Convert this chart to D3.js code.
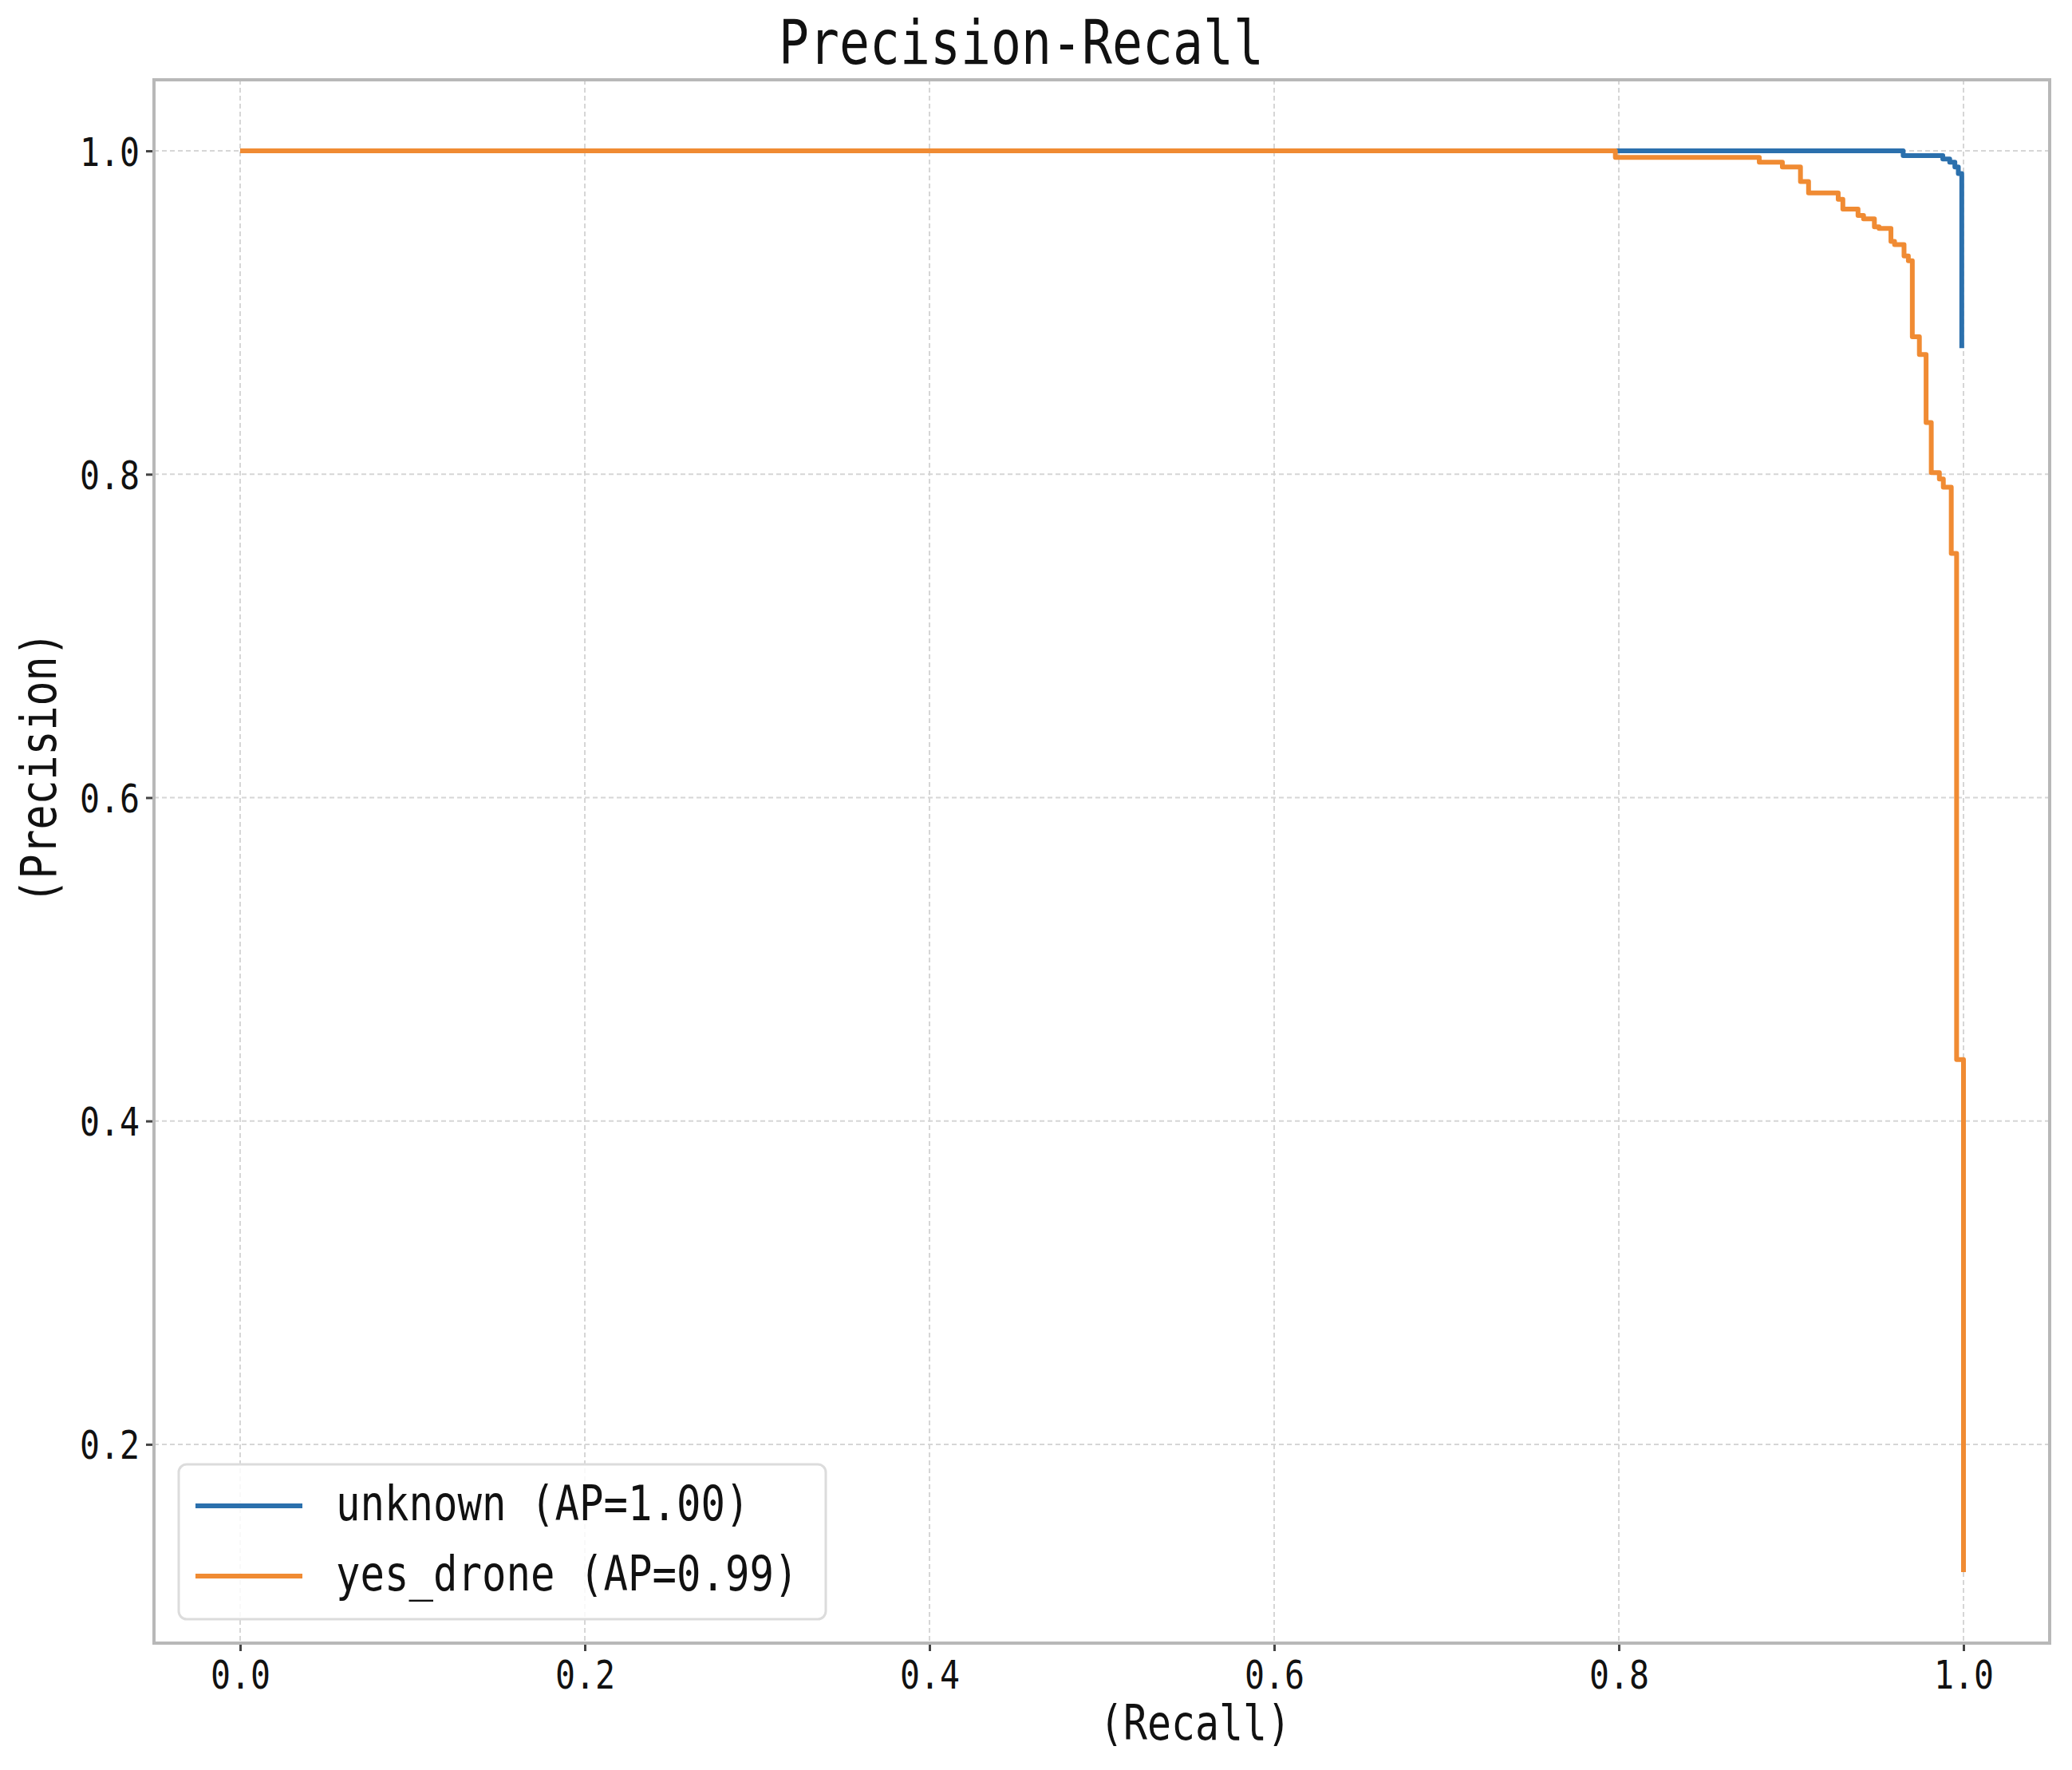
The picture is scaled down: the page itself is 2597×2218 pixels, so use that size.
<!DOCTYPE html>
<html>
<head>
<meta charset="utf-8">
<script src="https://cdn.jsdelivr.net/npm/d3@7"></script>
<style>
  html, body { margin: 0; padding: 0; background: #fff; }
  svg text { font-family: "DejaVu Sans Mono", monospace; fill: #111; }
</style>
</head>
<body>
<svg id="chart"></svg>
<script>
const width = 2597;
const height = 2218;

// tick values
const xTicks = [0, 0.2, 0.4, 0.6, 0.8, 1.0];
const yTicks = [0.2, 0.4, 0.6, 0.8, 1.0];

// series (step-after points: recall, precision)
const seriesNames = ['unknown (AP=1.00)', 'yes_drone (AP=0.99)'];
const unknownRecall    = [0, 0.965, 0.988, 0.992, 0.995, 0.997, 0.999];
const unknownPrecision = [1.0, 0.997, 0.995, 0.993, 0.990, 0.986, 0.878];
const droneRecall    = [0, 0.798, 0.8815, 0.8949, 0.9054, 0.9101, 0.9273, 0.930, 0.9388, 0.942, 0.9483, 0.951, 0.9579, 0.960, 0.9655, 0.968, 0.9703, 0.9744, 0.9783, 0.9813, 0.986, 0.9883, 0.9929, 0.996, 1.0];
const dronePrecision = [1.0, 0.996, 0.993, 0.990, 0.981, 0.974, 0.970, 0.964, 0.960, 0.958, 0.953, 0.952, 0.944, 0.942, 0.935, 0.932, 0.885, 0.874, 0.832, 0.801, 0.797, 0.792, 0.751, 0.438, 0.121];

const colors = ['#2b70ad', '#f08b33'];

const series = [
    { name: seriesNames[0], color: colors[0], pts: unknownRecall.map((r, i) => [r, unknownPrecision[i]]) },
    { name: seriesNames[1], color: colors[1], pts: droneRecall.map((r, i) => [r, dronePrecision[i]]) }
];

const plot = { left: 193, right: 2569, top: 100, bottom: 2059 };

// matplotlib-like 5% margins
const allP = unknownPrecision.concat(dronePrecision);
const pMin = d3.min(allP), pMax = d3.max(allP);
const pPad = (pMax - pMin) * 0.05;

const x = d3.scaleLinear().domain([-0.05, 1.05]).range([plot.left, plot.right]);
const y = d3.scaleLinear().domain([pMin - pPad, pMax + pPad]).range([plot.bottom, plot.top]);

const svg = d3.select('#chart').attr('width', width).attr('height', height);

// SimHei-like half-width text
const halfText = (sel, str, fs) => sel.text(str)
    .attr('font-size', fs)
    .attr('textLength', str.length * fs * 0.5)
    .attr('lengthAdjust', 'spacingAndGlyphs');

// grid
svg.append('g').selectAll('line').data(xTicks).join('line')
    .attr('x1', d => x(d)).attr('x2', d => x(d))
    .attr('y1', plot.top).attr('y2', plot.bottom)
    .attr('stroke', '#d6d6d6').attr('stroke-width', 2).attr('stroke-dasharray', '6,4');
svg.append('g').selectAll('line').data(yTicks).join('line')
    .attr('y1', d => y(d)).attr('y2', d => y(d))
    .attr('x1', plot.left).attr('x2', plot.right)
    .attr('stroke', '#d6d6d6').attr('stroke-width', 2).attr('stroke-dasharray', '6,4');

// axes
const xAxis = svg.append('g')
    .attr('transform', `translate(0,${plot.bottom})`)
    .call(d3.axisBottom(x).tickValues(xTicks).tickSizeInner(10).tickSizeOuter(0).tickPadding(0).tickFormat(''));
const yAxis = svg.append('g')
    .attr('transform', `translate(${plot.left},0)`)
    .call(d3.axisLeft(y).tickValues(yTicks).tickSizeInner(10).tickSizeOuter(0).tickPadding(0).tickFormat(''));
[xAxis, yAxis].forEach(a => {
    a.select('.domain').remove();
    a.selectAll('.tick line').attr('stroke', '#444').attr('stroke-width', 3);
});

xAxis.selectAll('.tick').append('text')
    .attr('y', 57).attr('text-anchor', 'middle')
    .each(function (d) { halfText(d3.select(this), d3.format('.1f')(d), 50); });
yAxis.selectAll('.tick').append('text')
    .attr('x', -18).attr('dy', '0.36em').attr('text-anchor', 'end')
    .each(function (d) { halfText(d3.select(this), d3.format('.1f')(d), 50); });

// frame
svg.append('rect')
    .attr('x', plot.left).attr('y', plot.top)
    .attr('width', plot.right - plot.left).attr('height', plot.bottom - plot.top)
    .attr('fill', 'none').attr('stroke', '#b8b8b8').attr('stroke-width', 4);

// curves
const line = d3.line()
    .x(d => x(d[0]))
    .y(d => y(d[1]))
    .curve(d3.curveStepAfter);

svg.append('g').selectAll('path').data(series).join('path')
    .attr('d', d => line(d.pts))
    .attr('fill', 'none')
    .attr('stroke', d => d.color)
    .attr('stroke-width', 6)
    .attr('stroke-linejoin', 'round');

// titles
halfText(svg.append('text').attr('x', 1280).attr('y', 80).attr('text-anchor', 'middle'), 'Precision-Recall', 76);
halfText(svg.append('text').attr('x', 1498).attr('y', 2180).attr('text-anchor', 'middle'), '(Recall)', 60);
halfText(svg.append('text').attr('transform', 'translate(70,962) rotate(-90)').attr('text-anchor', 'middle'), '(Precision)', 62);

// legend
const legend = svg.append('g').attr('transform', 'translate(224,1835)');
legend.append('rect')
    .attr('width', 811).attr('height', 194).attr('rx', 10)
    .attr('fill', '#fff').attr('fill-opacity', 0.85)
    .attr('stroke', '#dcdcdc').attr('stroke-width', 3);
const item = legend.selectAll('g').data(series).join('g')
    .attr('transform', (d, i) => `translate(0,${52 + i * 88})`);
item.append('line')
    .attr('x1', 21).attr('x2', 155)
    .attr('stroke', d => d.color).attr('stroke-width', 6);
item.append('text')
    .attr('x', 197).attr('y', 18)
    .each(function (d) { halfText(d3.select(this), d.name, 61); });
</script>
</body>
</html>
